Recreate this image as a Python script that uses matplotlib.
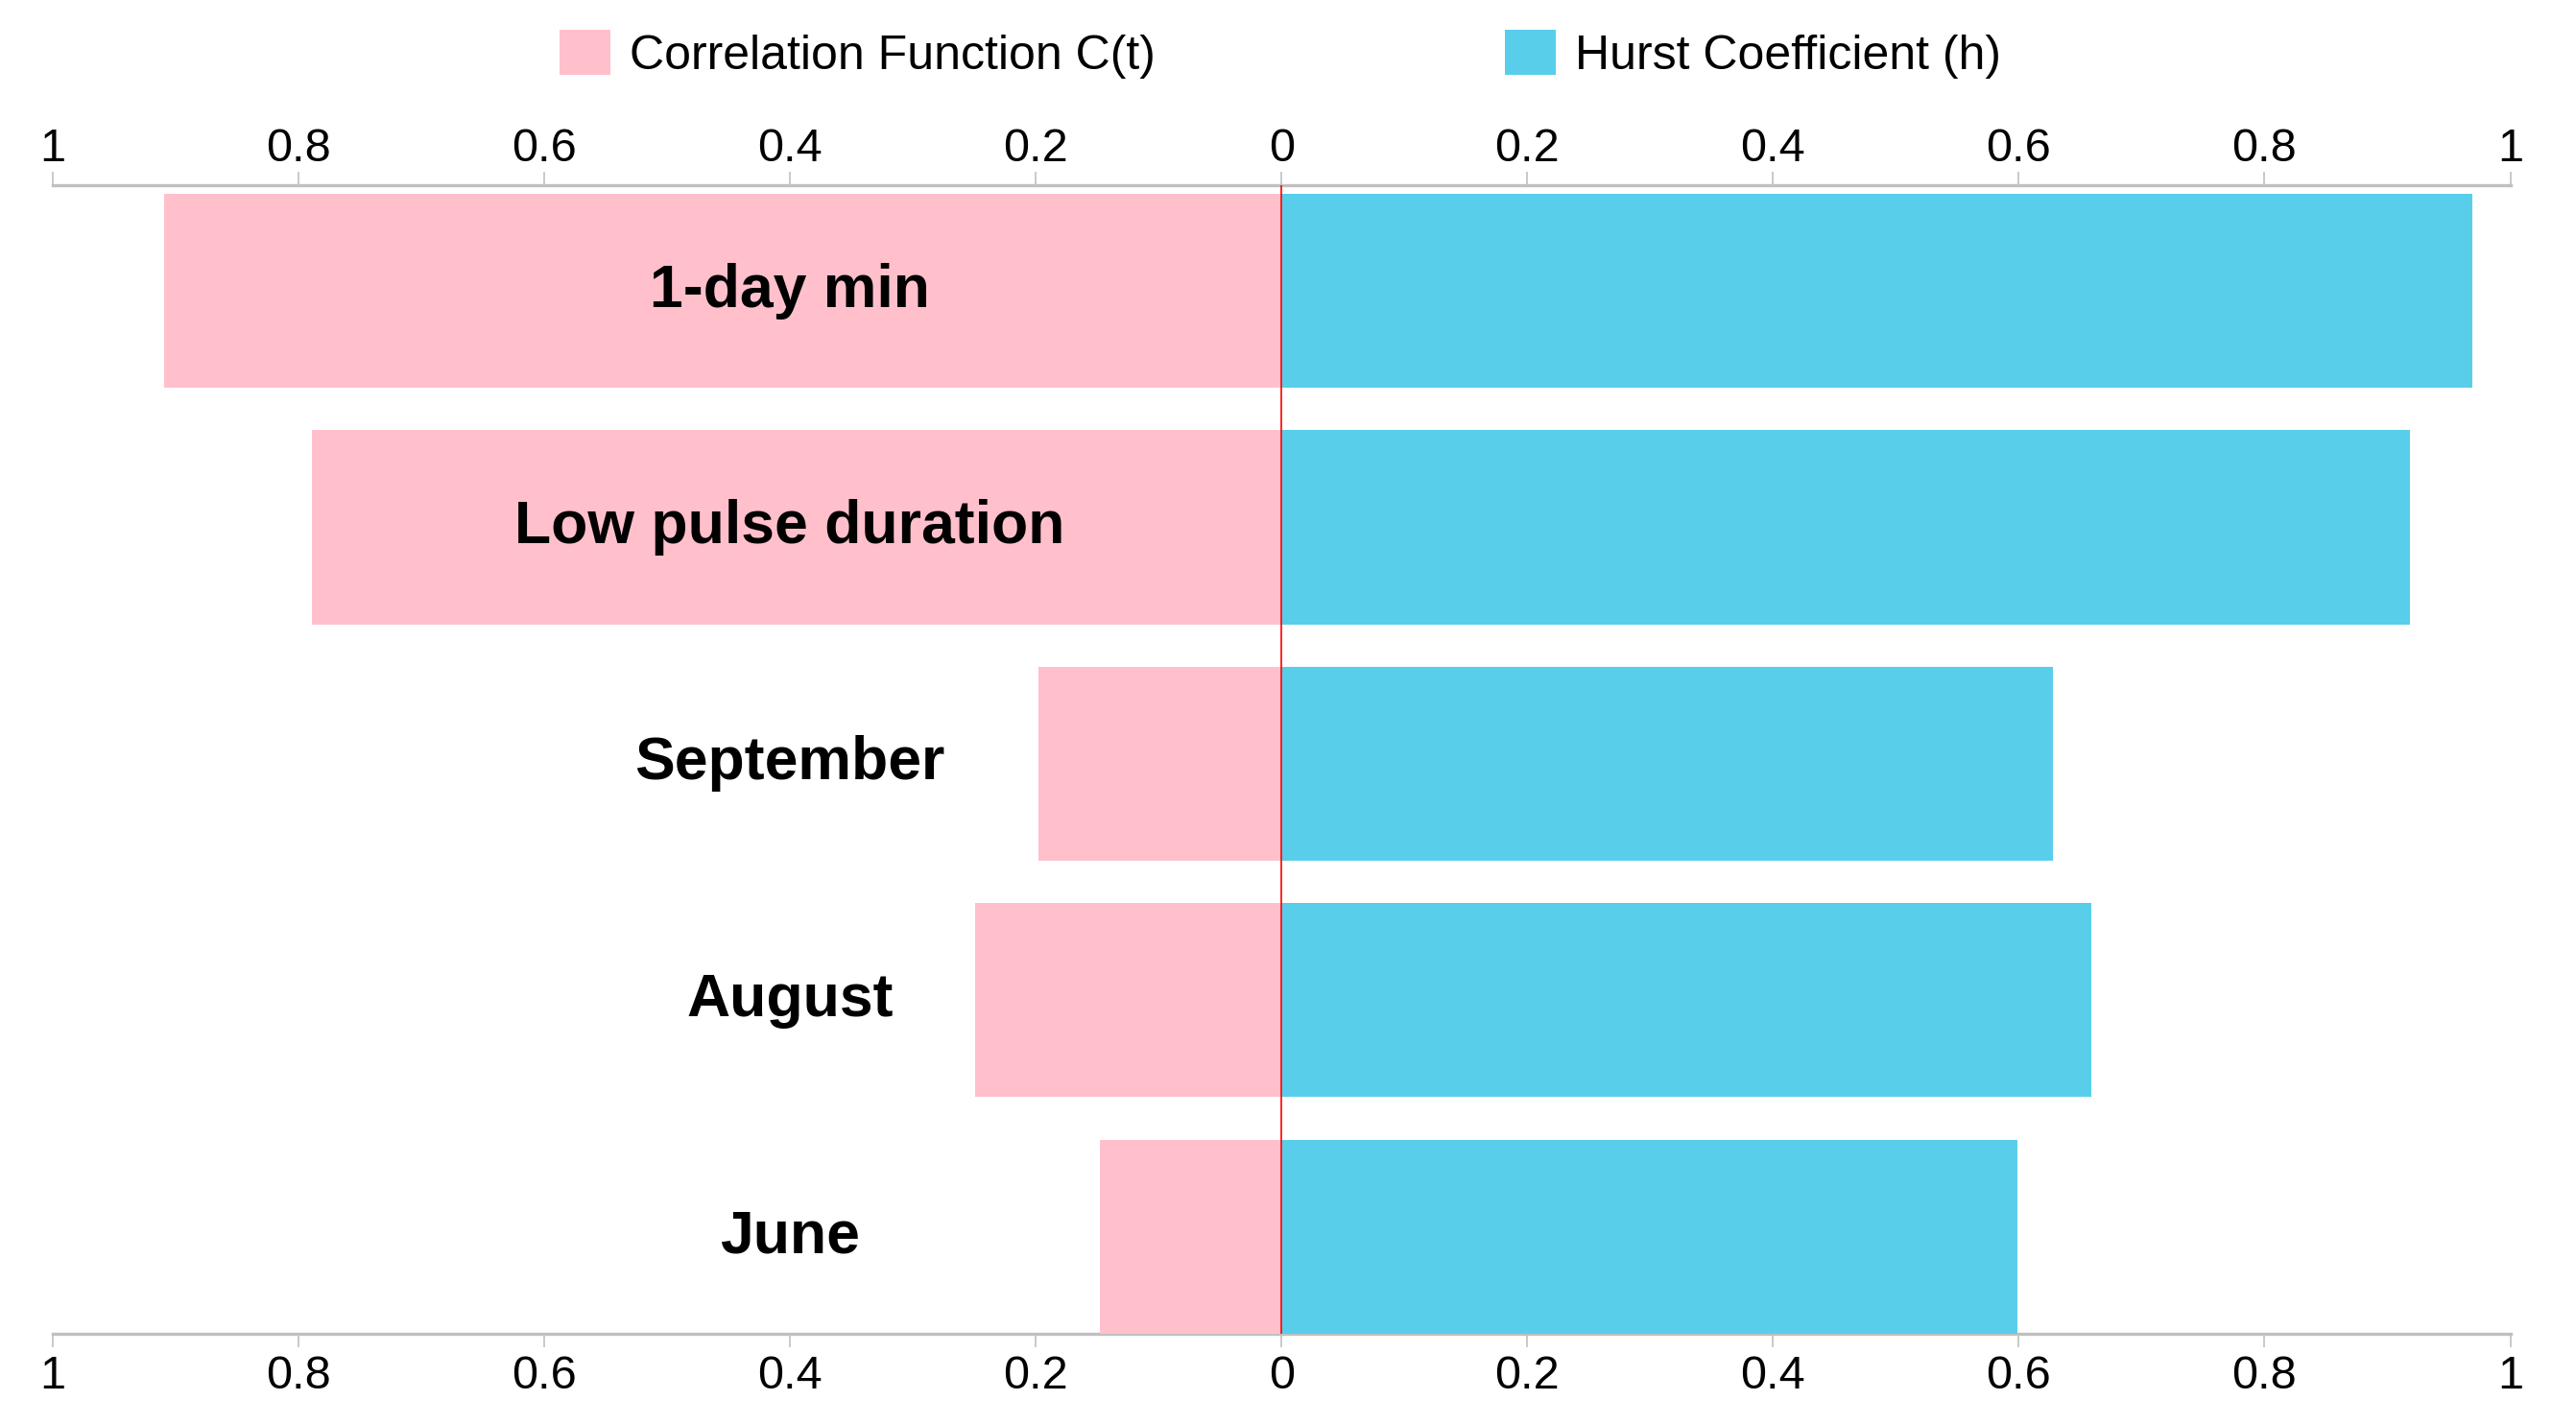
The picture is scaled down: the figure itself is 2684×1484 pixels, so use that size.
import matplotlib
matplotlib.use("Agg")
import matplotlib.pyplot as plt
from matplotlib.patches import Patch
import numpy as np

plt.rcParams['font.family'] = ['Liberation Sans', 'DejaVu Sans']

# data
categories = ['1-day min', 'Low pulse duration', 'September', 'August', 'June']
corr_vals = [0.909, 0.789, 0.198, 0.249, 0.148]     # Correlation Function C(t)
hurst_vals = [0.969, 0.918, 0.628, 0.659, 0.599]    # Hurst Coefficient (h)
tick_vals = [-1, -0.8, -0.6, -0.4, -0.2, 0, 0.2, 0.4, 0.6, 0.8, 1]
tick_labels = ['1', '0.8', '0.6', '0.4', '0.2', '0', '0.2', '0.4', '0.6', '0.8', '1']

pink = '#FFC0CB'
blue = '#59CEEB'
grey = '#C0C0C0'

fig = plt.figure(figsize=(13.42, 7.42), dpi=200)
ax = fig.add_axes([0.0204, 0.0634, 0.9541, 0.8063])

y = np.arange(len(categories))
ax.barh(y, [-v for v in corr_vals], height=0.82, color=pink, zorder=2)
ax.barh(y, hurst_vals, height=0.82, color=blue, zorder=2)
ax.axvline(0, color='red', lw=0.6, zorder=3)

for yi, name in zip(y, categories):
    ax.text(-0.4, yi, name, ha='center', va='center', fontsize=22.5,
            fontweight='bold', color='black', zorder=4)

ax.set_xlim(-1, 1)
ax.set_ylim(len(categories) - 1 + 0.41, -0.445)

ax.set_xticks(tick_vals)
ax.set_xticklabels(tick_labels)
ax.set_yticks([])
ax.tick_params(axis='x', top=True, labeltop=True, bottom=True, labelbottom=True,
               direction='out', length=5, width=0.6, color=grey,
               labelsize=17.5, pad=3)
# top labels sit a bit closer to the line than the bottom ones
for t in ax.xaxis.get_major_ticks():
    t.label2.set_y(1.0)
    t.label2.set_transform(ax.get_xaxis_transform() +
                           matplotlib.transforms.ScaledTranslation(0, 5.5 / 72, fig.dpi_scale_trans))
    t.label2.set_verticalalignment('bottom')

for side in ['left', 'right']:
    ax.spines[side].set_visible(False)
for side in ['top', 'bottom']:
    ax.spines[side].set_color(grey)
    ax.spines[side].set_linewidth(1.2)
    ax.spines[side].set_zorder(1)

handles = [Patch(facecolor=pink, edgecolor='none', label='Correlation Function C(t)'),
           Patch(facecolor=blue, edgecolor='none', label='Hurst Coefficient (h)')]
fig.legend(handles=handles, loc='center', bbox_to_anchor=(0.497, 0.962), ncol=2,
           frameon=False, fontsize=18, handlelength=1.06, handleheight=1.06,
           handletextpad=0.4, columnspacing=7.3)

fig.savefig('out.png', dpi=200)
